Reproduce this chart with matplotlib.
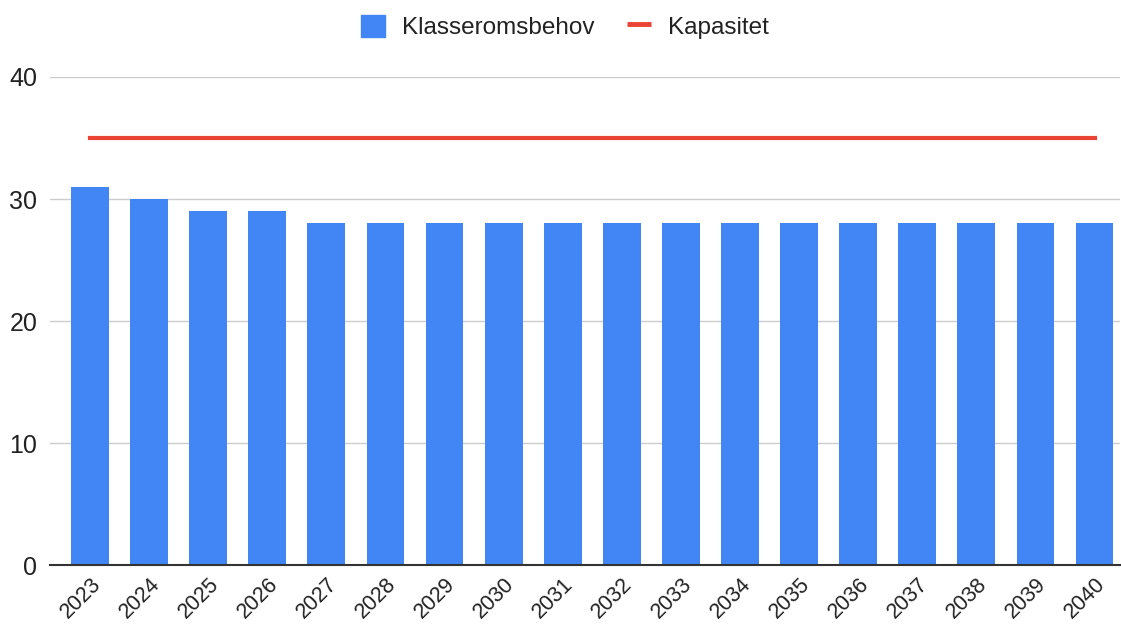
import matplotlib.pyplot as plt
import matplotlib.patches as mpatches
import matplotlib.lines as mlines
import numpy as np

# --------------------------------------------------------------------------------------
# Data

years    = [str(y) for y in range(2023, 2041)]
behov    = [31, 30, 29, 29, 28, 28, 28, 28, 28, 28, 28, 28, 28, 28, 28, 28, 28, 28]
kapasitet = [35] * len(years)

barcol  = '#4285F4'
linecol = '#EA4335'

plt.rcParams['font.family'] = ['Liberation Sans', 'DejaVu Sans']

# --------------------------------------------------------------------------------------
# Chart

fig = plt.figure(figsize=(11.21, 6.26), dpi=100)
ax = fig.add_axes([0.0446, 0.0974, 0.9545, 0.7796])

x = np.arange(len(years))
ax.bar(x, behov, width=0.64, color=barcol, zorder=2)
ax.plot(x, kapasitet, color=linecol, linewidth=3, zorder=3)

ax.set_ylim(0, 40)
ax.set_xlim(-0.677, 17.43)
ax.set_yticks([0, 10, 20, 30, 40])
ax.grid(True, axis='y', color='#cccccc', linewidth=1, zorder=0)

for s in ['top', 'right', 'left']:
    ax.spines[s].set_visible(False)
ax.spines['bottom'].set_color('#333333')
ax.spines['bottom'].set_linewidth(1.5)
ax.spines['bottom'].set_zorder(4)

ax.set_xticks(x)
ax.set_xticklabels(years, rotation=45, ha='right', rotation_mode='anchor')
ax.tick_params(axis='x', length=0, labelsize=15.5, colors='#222222', pad=6)
ax.tick_params(axis='y', length=0, labelsize=18, colors='#222222', pad=9)

# legend
handles = [mpatches.FancyBboxPatch((0, 0), 1, 1, boxstyle='round,pad=0,rounding_size=0.15',
                                   color=barcol, label='Klasseromsbehov'),
           mlines.Line2D([], [], color=linecol, linewidth=3.5, solid_capstyle='butt',
                         label='Kapasitet')]
fig.legend(handles=handles, loc='center', bbox_to_anchor=(0.504, 0.957), ncol=2,
           frameon=False, fontsize=17.5, handlelength=1.0, handleheight=1.0,
           columnspacing=1.3, handletextpad=0.7, labelcolor='#222222')

fig.savefig('out.png', dpi=100)
